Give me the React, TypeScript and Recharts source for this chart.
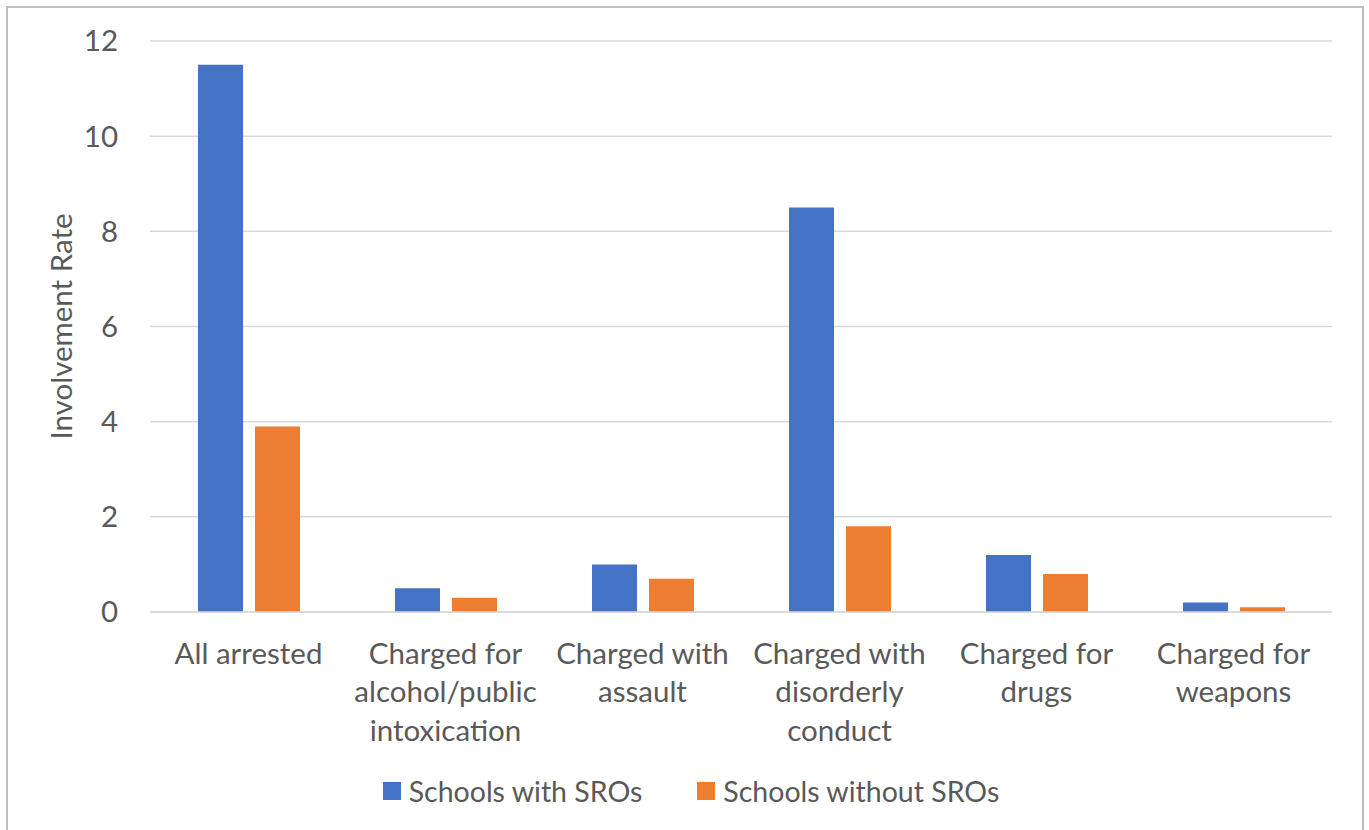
import React from "react";
import {
  BarChart,
  Bar,
  CartesianGrid,
  XAxis,
  YAxis,
  Legend,
} from "recharts";

// categories, broken into the lines the axis shows
const categories = [
  "All arrested",
  "Charged for alcohol/public intoxication",
  "Charged with assault",
  "Charged with disorderly conduct",
  "Charged for drugs",
  "Charged for weapons",
];
const categoryLines = [
  ["All arrested"],
  ["Charged for", "alcohol/public", "intoxication"],
  ["Charged with", "assault"],
  ["Charged with", "disorderly", "conduct"],
  ["Charged for", "drugs"],
  ["Charged for", "weapons"],
];

const withSRO = [11.5, 0.5, 1.0, 8.5, 1.2, 0.2];
const withoutSRO = [3.9, 0.3, 0.7, 1.8, 0.8, 0.1];

const yTicks = [0, 2, 4, 6, 8, 10, 12];

const seriesNames = ["Schools with SROs", "Schools without SROs"];
const BLUE = "#4472C4";
const ORANGE = "#ED7D31";
const TEXT = "#595959";
const FONT = "Lato, 'Open Sans', sans-serif";
const FONT_SIZE = 29.5;

const data = categories.map((name, i) => ({
  name,
  with: withSRO[i],
  without: withoutSRO[i],
}));

function CategoryTick(props: any) {
  const { x, y, payload } = props;
  const idx = categories.indexOf(payload.value);
  const lines = categoryLines[idx] || [payload.value];
  return (
    <text
      x={x}
      y={y}
      textAnchor="middle"
      fill={TEXT}
      fontSize={FONT_SIZE}
      fontFamily={FONT}
    >
      {lines.map((line, i) => (
        <tspan
          key={i}
          x={x}
          y={y + 38 + i * 38.5}
          dominantBaseline="central"
        >
          {line}
        </tspan>
      ))}
    </text>
  );
}

function LegendBox() {
  const colors = [BLUE, ORANGE];
  return (
    <div
      style={{
        display: "flex",
        justifyContent: "center",
        alignItems: "center",
        height: 40,
        paddingLeft: 42,
        position: "relative",
        top: -3,
        fontFamily: FONT,
        fontSize: 28.5,
        color: TEXT,
        gap: 55,
      }}
    >
      {seriesNames.map((s, i) => (
        <div key={s} style={{ display: "flex", alignItems: "center" }}>
          <span
            style={{
              width: 18,
              height: 18,
              background: colors[i],
              marginRight: 8,
              display: "inline-block",
            }}
          />
          <span>{s}</span>
        </div>
      ))}
    </div>
  );
}

export default function App() {
  return (
    <div
      style={{
        position: "absolute",
        left: 6,
        top: 6,
        width: 1354,
        height: 830,
        border: "2px solid #bfbfbf",
        background: "#fff",
      }}
    >
      <BarChart
        width={1354}
        height={830}
        data={data}
        margin={{ top: 33, right: 30, bottom: 24, left: 0 }}
        barSize={45}
        barGap={12}
      >
        <CartesianGrid
          vertical={false}
          stroke="#d9d9d9"
          strokeWidth={1.5}
        />
        <XAxis
          dataKey="name"
          height={162}
          interval={0}
          tick={<CategoryTick />}
          tickLine={false}
          tickSize={0}
          axisLine={{ stroke: "#d9d9d9", strokeWidth: 1.5 }}
        />
        <YAxis
          width={142}
          domain={[0, 12]}
          ticks={yTicks}
          tickLine={false}
          axisLine={false}
          tickSize={0}
          tickMargin={32}
          tick={{ fill: TEXT, fontSize: FONT_SIZE, fontFamily: FONT }}
          label={{
            value: "Involvement Rate",
            angle: -90,
            position: "center",
            dx: -17,
            fill: TEXT,
            fontSize: FONT_SIZE,
            fontFamily: FONT,
          }}
        />
        <Legend verticalAlign="bottom" content={<LegendBox />} />
        <Bar
          dataKey="with"
          name={seriesNames[0]}
          fill={BLUE}
          isAnimationActive={false}
        />
        <Bar
          dataKey="without"
          name={seriesNames[1]}
          fill={ORANGE}
          isAnimationActive={false}
        />
      </BarChart>
    </div>
  );
}
